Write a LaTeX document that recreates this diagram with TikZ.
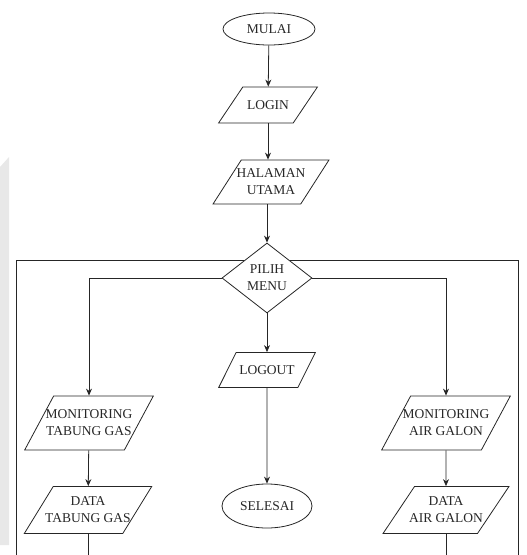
\documentclass[tikz,border=0pt]{standalone}
\usepackage{fontspec}
\setmainfont{Liberation Serif}
\usetikzlibrary{shapes.geometric, arrows.meta}

\begin{document}
\begin{tikzpicture}[x=1pt, y=-1pt,
    box/.style={draw=black!85, line width=0.8pt, font=\fontsize{13.5}{17}\selectfont, align=center, text=black!85},
    terminal/.style={box, ellipse, inner sep=0pt},
    io/.style={box, trapezium, trapezium left angle=#1, trapezium right angle=180-#1,
        trapezium stretches=true, inner xsep=-8pt, inner ysep=0pt},
    pick/.style={box, diamond, aspect=1.3, inner sep=0pt},
    flow/.style={draw=black!85, line width=0.8pt, -{Stealth[length=7pt, width=6pt]}},
    wire/.style={draw=black!85, line width=0.8pt}]
    \useasboundingbox (0,0) rectangle (527,555);
    \fill[black!9] (0,167) -- (9,157) -- (9,545) -- (0,545) -- cycle;

    \node[terminal, minimum width=92, minimum height=32] (start) at (269,29) {MULAI};
    \node[io=36, minimum width=99, minimum height=36] (login) at (268,105) {LOGIN};
    \node[io=46, minimum width=116, minimum height=44] (home) at (271,182) {HALAMAN\\UTAMA};
    \node[pick, minimum width=90, minimum height=70] (menu) at (267,278) {PILIH\\MENU};
    \node[io=39, minimum width=97, minimum height=35] (logout) at (267,370) {LOGOUT};
    \node[terminal, minimum width=90, minimum height=44] (end) at (267,506) {SELESAI};
    \node[io=42, minimum width=126, minimum height=54] (gasmon) at (89,423) {MONITORING\\TABUNG GAS};
    \node[io=42, minimum width=126, minimum height=47] (gasdata) at (88,510) {DATA\\TABUNG GAS};
    \node[io=42, minimum width=126, minimum height=54] (galmon) at (446,423) {MONITORING\\AIR GALON};
    \node[io=42, minimum width=126, minimum height=47] (galdata) at (446,510) {DATA\\AIR GALON};

    \coordinate (gasout) at (88,555);
    \coordinate (galout) at (446,555);
    \coordinate (loopL) at (16,555);
    \coordinate (loopR) at (518,555);

    \draw[flow] (start) -- (login);
    \draw[flow] (login.south) -- (login.south |- home.north);
    \draw[flow] (menu.north |- home.south) -- (menu.north);
    \draw[flow] (menu.west) -| (gasmon.north);
    \draw[flow] (menu.east) -| (galmon.north);
    \draw[flow] (menu) -- (logout);
    \draw[flow] (logout) -- (end);
    \draw[flow] (gasmon) -- (gasdata);
    \draw[flow] (galmon) -- (galdata);
    \draw[wire] (gasdata) -- (gasout);
    \draw[wire] (galdata) -- (galout);
    \draw[wire] (loopL) |- (menu.north west);
    \draw[wire] (loopR) |- (menu.north east);
\end{tikzpicture}
\end{document}
